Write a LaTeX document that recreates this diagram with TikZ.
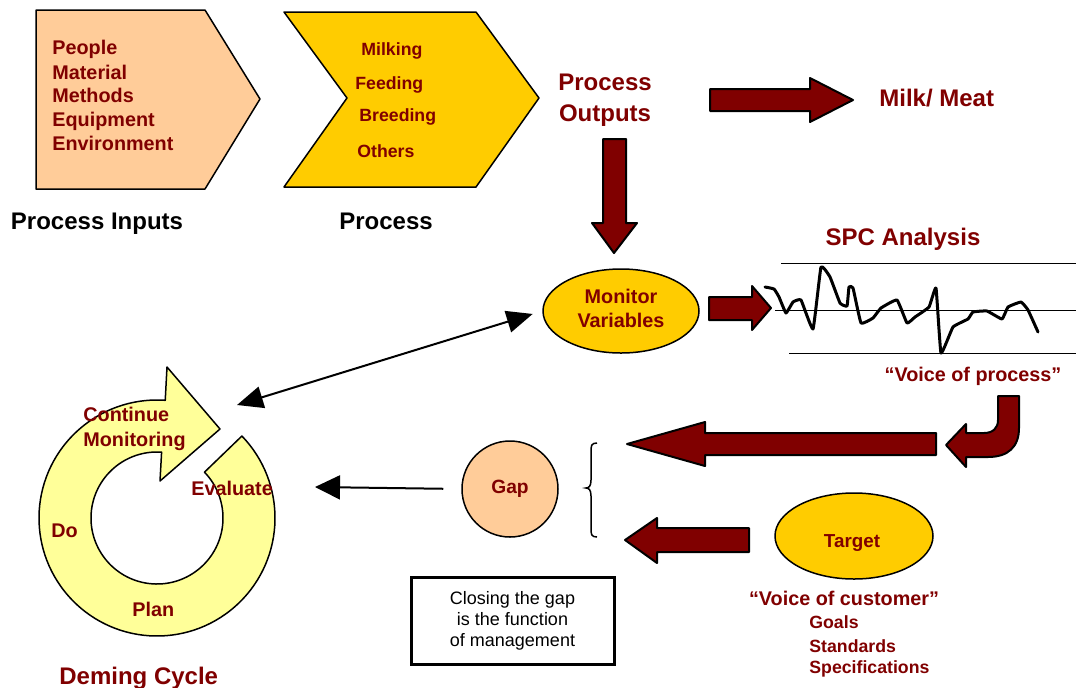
\documentclass[tikz,border=0pt]{standalone}
\usepackage{fontspec}
\setmainfont{Liberation Sans}
\usetikzlibrary{shapes.geometric,arrows.meta,calc}
\definecolor{dkred}{HTML}{800000}
\definecolor{peach}{HTML}{FFCC99}
\definecolor{gold}{HTML}{FFCC00}
\definecolor{paleyel}{HTML}{FFFF99}
\tikzset{
	redtxt/.style={text=dkred, font=\bfseries\fontsize{9.9}{12}\selectfont, inner sep=0pt},
	smallred/.style={text=dkred, font=\bfseries\fontsize{8.85}{11}\selectfont, inner sep=0pt},
	bigred/.style={text=dkred, font=\bfseries\fontsize{12}{15}\selectfont, inner sep=0pt},
	headtxt/.style={font=\bfseries\fontsize{12}{15}\selectfont, inner sep=0pt},
	outline/.style={draw=black, line width=0.75pt, line join=round},
	blockarrow/.style={fill=dkred, draw=black, line width=1pt, line join=round},
	thinarrow/.style={line width=1pt, -{Triangle[length=12.5pt,width=12pt]}},
}
\begin{document}
\begin{tikzpicture}[x=0.5pt, y=-0.5pt]
		\useasboundingbox (0,0) rectangle (1076,687);
		% inputs and process
		\filldraw[fill=peach, outline] (36,10) -- (205,10) -- (260,99) -- (205,189) -- (36,189) -- cycle;
		\filldraw[fill=gold, outline] (284,12) -- (476,12) -- (539,98) -- (476,187) -- (284,187) -- (347,98) -- cycle;
		\foreach \t/\y [count=\i] in {People/54, Material/79, Methods/102, Equipment/126, Environment/150}
			\node[redtxt, anchor=base west] (inp\i) at (52,\y) {\t};
		\foreach \t/\x/\y [count=\i] in {Milking/361/55, Feeding/355/89, Breeding/359/121, Others/357/157}
			\node[smallred, anchor=base west] (proc\i) at (\x,\y) {\t};
		\node[headtxt, anchor=base] (inlbl) at (97,229) {Process Inputs};
		\node[headtxt, anchor=base] (proclbl) at (386,229) {Process};
		
		% outputs
		\node[bigred, anchor=base] (out1) at (605,90) {Process};
		\node[bigred, anchor=base] (out2) at (605,121) {Outputs};
		\node[bigred, anchor=base west] (milk) at (879,106) {Milk/ Meat};
		\filldraw[blockarrow] (710,89) -- (810,89) -- (810,78) -- (853,100) -- (810,122) -- (810,111) -- (710,111) -- cycle;
		\filldraw[blockarrow] (603,139) -- (626,139) -- (626,223) -- (637,223) -- (614,253) -- (592,223) -- (603,223) -- cycle;
		
		% monitoring and SPC chart
		\node[ellipse, fill=gold, outline, minimum width=78pt, minimum height=42pt] (mon) at (621,311) {};
		\node[redtxt, anchor=base] (mon1) at (621,303.5) {Monitor};
		\node[redtxt, anchor=base] (mon2) at (621,327.5) {Variables};
		\filldraw[blockarrow] (709,297) -- (752,297) -- (752,286) -- (771,308) -- (752,330) -- (752,320) -- (709,320) -- cycle;
		\node[bigred, anchor=base] (spc) at (903,245) {SPC Analysis};
		\draw[line width=0.5pt] (781,263) -- (1076,263);
		\draw[line width=0.5pt] (775,310) -- (1076,310);
		\draw[line width=0.5pt] (789,353) -- (1076,353);
		\draw[line width=1.5pt, line join=round, line cap=round] plot[smooth, tension=0.2] coordinates {
			(765,287) (774,289) (779,297) (786,313) (793,302) (801,300) (813,329) (821,267) (830,277)
			(840,303) (847,306) (849,287) (853,288) (861,323) (873,318) (881,308) (897,300) (907,323)
			(915,317) (929,307) (936,288) (941,353) (953,327) (968,319) (973,312) (987,311) (1002,319)
			(1008,307) (1021,302) (1028,310) (1038,332)};
		\node[redtxt, anchor=base] (vop) at (973,381) {“Voice of process”};
		
		% gap, target and arrows between them
		\filldraw[blockarrow] (998,396) -- (1019,396) -- (1019,428) .. controls (1019,447) and (1008,457) .. (988,457) -- (966,457) -- (966,467) -- (946,445) -- (966,424) -- (966,433) -- (984,433) .. controls (993,433) and (998,428) .. (998,420) -- cycle;
		\filldraw[blockarrow] (936,433) -- (705,433) -- (705,422) -- (627,444) -- (705,466) -- (705,455) -- (936,455) -- cycle;
		\filldraw[blockarrow] (749,528) -- (657,528) -- (657,518) -- (625,540) -- (657,563) -- (657,552) -- (749,552) -- cycle;
		\draw[line width=0.75pt] (597,443) .. controls (591,443) and (591,446) .. (591,452) -- (591,480)
			.. controls (591,486) and (589,488) .. (586,488) .. controls (589,488) and (591,490) .. (591,496)
			-- (591,528) .. controls (591,534) and (591,537) .. (597,537);
		\node[circle, fill=peach, outline, minimum size=48pt, redtxt, font=\bfseries\fontsize{9.6}{11}\selectfont] (gap) at (510,489) {Gap};
		\node[ellipse, fill=gold, outline, minimum width=79pt, minimum height=43pt] (tgt) at (854,536) {};
		\node[redtxt, font=\bfseries\fontsize{9.4}{11}\selectfont, anchor=base] (tgtlbl) at (852,547) {Target};
		\node[redtxt, anchor=base] (voc) at (844,605) {“Voice of customer”};
		\foreach \t/\y [count=\i] in {Goals/628, Standards/652, Specifications/673}
			\node[smallred, anchor=base west] (spec\i) at (809,\y) {\t};
		\node[draw, line width=1.5pt, minimum width=101.5pt, minimum height=43.5pt, align=center,
			font=\fontsize{9}{10.5}\selectfont] (note) at (512.5,620.5) {Closing the gap\\is the function\\of management};
		
		% deming cycle
		\coordinate (cyc) at (157,518);
		\filldraw[fill=paleyel, outline] ($(cyc)+(-44:118)$) arc[start angle=-44, end angle=274, radius=118]
			-- (167,367) -- (220,429) -- (160,481) -- ($(cyc)+(274:66)$) arc[start angle=274, end angle=-44, radius=66] -- cycle;
		\node[redtxt, anchor=base west] (cont1) at (83,421) {Continue};
		\node[redtxt, anchor=base west] (cont2) at (83,446) {Monitoring};
		\node[redtxt, anchor=base west] (eval) at (191,495) {Evaluate};
		\node[redtxt, anchor=base west] (do) at (51,537) {Do};
		\node[redtxt, anchor=base west] (plan) at (132,616) {Plan};
		\node[bigred, anchor=base west] (deming) at (59,684) {Deming Cycle};
		
		% thin connectors
		\coordinate (cyctip) at (237,405);
		\coordinate (gaptip) at (315,487);
		\draw[thinarrow, {Triangle[length=13pt,width=11pt]}-{Triangle[length=13pt,width=11pt]}, shorten <=5pt] (mon.west) -- (cyctip);
		\draw[thinarrow, shorten <=9pt] (gap.west) -- (gaptip);
	\end{tikzpicture}
\end{document}
